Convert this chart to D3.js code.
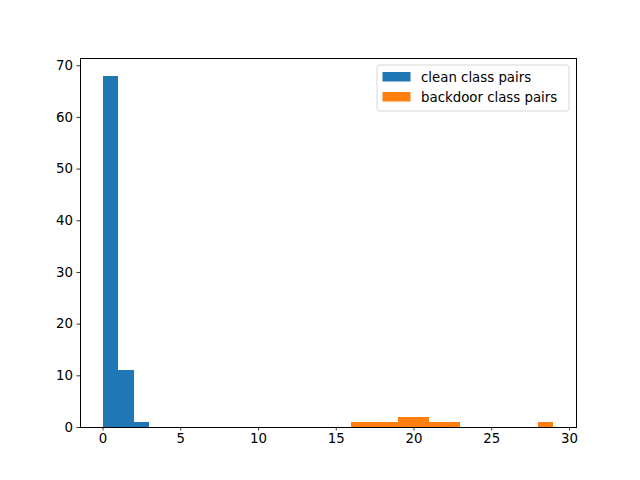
<!DOCTYPE html>
<html><head><meta charset="utf-8">
<script src="https://cdn.jsdelivr.net/npm/d3@7"></script>
<style>body{margin:0;background:#fff}svg{display:block}text{font-family:"DejaVu Sans",sans-serif}</style>
</head><body>
<script>
const cleanBins = [0, 1, 2];
const cleanCounts = [68, 11, 1];
const backdoorBins = [16, 17, 18, 19, 20, 21, 22, 28];
const backdoorCounts = [1, 1, 1, 2, 2, 1, 1, 1];
const binWidth = 1;
const xTicks = [0, 5, 10, 15, 20, 25, 30];
const yTicks = [0, 10, 20, 30, 40, 50, 60, 70];
const seriesNames = ["clean class pairs", "backdoor class pairs"];
const colors = ["#1f77b4", "#ff7f0e"];

const W = 640, H = 480;
const m = {l: 80, r: 64, t: 58, b: 53};
const svg = d3.select("body").append("svg").attr("width", W).attr("height", H);
const x = d3.scaleLinear().domain([-1.45, 30.45]).range([m.l, W - m.r]);
const y = d3.scaleLinear().domain([0, 71.4]).range([H - m.b, m.t]);

const g = svg.append("g");
function bars(bins, counts, color) {
  g.selectAll(null).data(bins.map((b, i) => ({b, c: counts[i]}))).enter().append("rect")
    .attr("x", d => x(d.b)).attr("width", d => x(d.b + binWidth) - x(d.b))
    .attr("y", d => y(d.c)).attr("height", d => y(0) - y(d.c))
    .attr("fill", color).attr("shape-rendering", "crispEdges");
}
bars(cleanBins, cleanCounts, colors[0]);
bars(backdoorBins, backdoorCounts, colors[1]);

const xa = svg.append("g").attr("transform", `translate(0,${H - m.b})`)
  .call(d3.axisBottom(x).tickValues(xTicks).tickSize(3.5).tickPadding(3.5).tickFormat(d3.format("d")));
const ya = svg.append("g").attr("transform", `translate(${m.l},0)`)
  .call(d3.axisLeft(y).tickValues(yTicks).tickSize(3.5).tickPadding(3.5).tickFormat(d3.format("d")));
[xa, ya].forEach(a => {
  a.select(".domain").remove();
  a.selectAll("text").attr("font-size", "13.33px").attr("fill", "#000").style("font-family", "DejaVu Sans");
  a.selectAll("line").attr("stroke", "#000").attr("stroke-width", 0.8);
});
svg.append("rect").attr("x", m.l).attr("y", m.t).attr("width", W - m.l - m.r).attr("height", H - m.t - m.b)
  .attr("fill", "none").attr("stroke", "#000").attr("stroke-width", 1).attr("shape-rendering", "crispEdges");

// legend
const lg = svg.append("g").attr("transform", "translate(377,65)");
lg.append("rect").attr("width", 192).attr("height", 46).attr("rx", 2.5)
  .attr("fill", "#fff").attr("fill-opacity", 0.8).attr("stroke", "#ccc").attr("stroke-width", 0.8);
seriesNames.forEach((n, i) => {
  const yy = 7 + i * 20;
  lg.append("rect").attr("x", 5.5).attr("y", yy).attr("width", 28).attr("height", 9.5).attr("fill", colors[i]);
  lg.append("text").attr("x", 44).attr("y", yy + 9.5).attr("font-size", "13.33px").text(n);
});
</script>
</body></html>
